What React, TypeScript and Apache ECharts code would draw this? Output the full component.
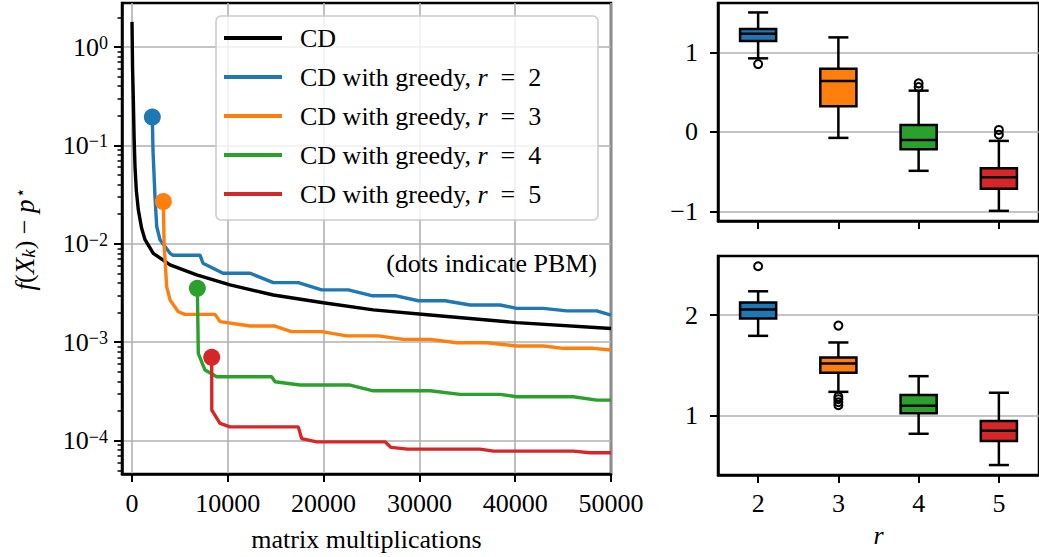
import React, { useEffect, useRef } from 'react';
import * as echarts from 'echarts';

const FONT = "'Liberation Serif', 'DejaVu Serif', serif";
const LINE_COLORS = ['#000000', '#1f77b4', '#ff7f0e', '#2ca02c', '#d62728'];
const BOX_COLORS = ['#1f77b4', '#ff7f0e', '#2ca02c', '#d62728'];

const seriesNames = [
  'CD',
  'CD with greedy, r = 2',
  'CD with greedy, r = 3',
  'CD with greedy, r = 4',
  'CD with greedy, r = 5',
];

// [matrix multiplications, f(X_k) - p*]
const cdData = [
  [0, 1.8], [60, 0.6], [140, 0.29], [220, 0.12], [313, 0.061], [450, 0.035], [660, 0.0221],
  [1000, 0.0145], [1360, 0.011], [2220, 0.008], [3970, 0.0061], [6750, 0.00483],
  [10230, 0.00382], [14750, 0.00302], [19970, 0.00252], [25190, 0.00213], [31110, 0.00189],
  [40160, 0.00158], [50000, 0.00138],
];
const greedyR2 = [
  [2120, 0.194], [2190, 0.09], [2400, 0.03], [2580, 0.015], [2920, 0.011], [3970, 0.008],
  [4280, 0.00766], [7100, 0.00766], [7410, 0.00635], [9500, 0.00502], [12320, 0.00502],
  [14750, 0.00403], [17360, 0.00403], [19800, 0.0034], [22580, 0.0034], [25020, 0.00297],
  [27460, 0.00297], [29890, 0.00264], [32680, 0.00264], [35290, 0.00239], [38420, 0.00239],
  [40160, 0.00221], [42940, 0.00221], [45380, 0.00208], [48510, 0.00208], [50000, 0.00189],
];
const greedyR3 = [
  [3270, 0.0269], [3350, 0.01], [3620, 0.00367], [3970, 0.00269], [4830, 0.00204],
  [5530, 0.00192], [8670, 0.00192], [9190, 0.00162], [12320, 0.00146], [14930, 0.00146],
  [16630, 0.00128], [19800, 0.00128], [22420, 0.00116], [25710, 0.00116], [28320, 0.00107],
  [31110, 0.00107], [33900, 0.000989], [37030, 0.000989], [40160, 0.000915], [42940, 0.000915],
  [45010, 0.000867], [48150, 0.000867], [50000, 0.000833],
];
const greedyR4 = [
  [6820, 0.00353], [6880, 0.0015], [6920, 0.000771], [7620, 0.000521], [8840, 0.000446],
  [14580, 0.000446], [14930, 0.000396], [17540, 0.000367], [22760, 0.000367], [25190, 0.000321],
  [31110, 0.000321], [34240, 0.000295], [38420, 0.000295], [40160, 0.000279], [46070, 0.000279],
  [48510, 0.000258], [50000, 0.000258],
];
const greedyR5 = [
  [8320, 0.000702], [8330, 0.000204], [9190, 0.00015], [10230, 0.000138], [17360, 0.000138],
  [17710, 0.000105], [19280, 0.0000972], [26410, 0.0000972], [27040, 0.0000853],
  [28780, 0.000082], [36330, 0.000082], [37720, 0.0000782], [46070, 0.0000782],
  [47810, 0.0000752], [50000, 0.0000752],
];
const lineSeriesData = [cdData, greedyR2, greedyR3, greedyR4, greedyR5];

const xTicks = [0, 10000, 20000, 30000, 40000, 50000];
const yMajorTicks = [1e-4, 1e-3, 1e-2, 1e-1, 1];
const yMinorTicks: number[] = [];
for (let e = -5; e <= 0; e++) {
  for (let m = 2; m <= 9; m++) yMinorTicks.push(m * Math.pow(10, e));
}

const rCategories = ['2', '3', '4', '5'];
// [whisker low, Q1, median, Q3, whisker high]
const topBoxStats = [
  [0.927, 1.145, 1.237, 1.296, 1.505],
  [-0.075, 0.323, 0.642, 0.797, 1.191],
  [-0.49, -0.218, -0.101, 0.088, 0.52],
  [-0.994, -0.717, -0.57, -0.457, -0.113],
];
const topOutliers = [[0, 0.855], [2, 0.612], [2, 0.565], [3, 0.025], [3, -0.035]];
const bottomBoxStats = [
  [1.795, 1.967, 2.057, 2.126, 2.238],
  [1.238, 1.427, 1.52, 1.58, 1.729],
  [0.821, 1.024, 1.1, 1.206, 1.394],
  [0.51, 0.749, 0.851, 0.947, 1.229],
];
const bottomOutliers = [[0, 2.487], [1, 1.897], [1, 1.19], [1, 1.165], [1, 1.135], [1, 1.105]];
const topYTicks = [-1, 0, 1];
const bottomYTicks = [1, 2];

const txt = { fontFamily: FONT, color: '#000', fontSize: 26 };
const gridLine = { show: true, lineStyle: { color: '#b0b0b0', width: 1.6 } };
const tickStyle = { lineStyle: { color: '#000', width: 2 } };
const axisLineStyle = { show: true, onZero: false, lineStyle: { color: '#000', width: 2.5 } };
const fmtNum = (v: number) => (v < 0 ? '\u2212' + Math.abs(v) : String(v));

function boxRender(params: any, api: any) {
  const idx = api.value(0);
  const x = api.coord([idx, 0])[0];
  const yMin = api.coord([idx, api.value(1)])[1];
  const yQ1 = api.coord([idx, api.value(2)])[1];
  const yMed = api.coord([idx, api.value(3)])[1];
  const yQ3 = api.coord([idx, api.value(4)])[1];
  const yMax = api.coord([idx, api.value(5)])[1];
  const band = api.size([1, 0])[0];
  const half = band * 0.225;
  const cap = band * 0.125;
  const ls = { stroke: '#000', lineWidth: 2.5 };
  return {
    type: 'group',
    children: [
      { type: 'line', shape: { x1: x, y1: yQ1, x2: x, y2: yMin }, style: ls },
      { type: 'line', shape: { x1: x, y1: yQ3, x2: x, y2: yMax }, style: ls },
      { type: 'line', shape: { x1: x - cap, y1: yMin, x2: x + cap, y2: yMin }, style: ls },
      { type: 'line', shape: { x1: x - cap, y1: yMax, x2: x + cap, y2: yMax }, style: ls },
      {
        type: 'rect',
        shape: { x: x - half, y: yQ3, width: 2 * half, height: yQ1 - yQ3 },
        style: { fill: BOX_COLORS[params.dataIndex], stroke: '#000', lineWidth: 2.5 },
      },
      { type: 'line', shape: { x1: x - half, y1: yMed, x2: x + half, y2: yMed }, style: ls },
    ],
  };
}

export default function App() {
  const ref = useRef<HTMLDivElement>(null);
  useEffect(() => {
    if (!ref.current) return;
    const chart = echarts.init(ref.current, null, { renderer: 'svg' });

    const lineSeries = lineSeriesData.map((d, i) => ({
      type: 'line',
      name: seriesNames[i],
      xAxisIndex: 0,
      yAxisIndex: 0,
      data: d,
      symbol: 'none',
      lineStyle: { width: 3.4, color: LINE_COLORS[i] },
      itemStyle: { color: LINE_COLORS[i] },
      z: 2,
    }));

    const dotSeries = {
      type: 'scatter',
      name: 'PBM',
      xAxisIndex: 0,
      yAxisIndex: 0,
      symbol: 'circle',
      symbolSize: 17,
      z: 3,
      data: lineSeriesData.slice(1).map((d, i) => ({
        value: d[0],
        itemStyle: { color: LINE_COLORS[i + 1], opacity: 1 },
      })),
    };

    const boxSeries = (stats: number[][], xi: number, yi: number) => ({
      type: 'custom',
      xAxisIndex: xi,
      yAxisIndex: yi,
      renderItem: boxRender,
      encode: { x: 0, y: [1, 2, 3, 4, 5] },
      data: stats.map((s, i) => [i, ...s]),
      z: 3,
    });
    const outlierSeries = (pts: number[][], xi: number, yi: number) => ({
      type: 'scatter',
      xAxisIndex: xi,
      yAxisIndex: yi,
      symbol: 'circle',
      symbolSize: 8,
      itemStyle: { color: 'rgba(0,0,0,0)', borderColor: '#000', borderWidth: 2, opacity: 1 },
      data: pts,
      z: 4,
    });

    const catAxis = (gi: number, showLabel: boolean) => ({
      type: 'category',
      gridIndex: gi,
      data: rCategories,
      boundaryGap: true,
      axisLine: axisLineStyle,
      axisTick: { show: true, alignWithLabel: true, length: 8, ...tickStyle },
      axisLabel: { show: showLabel, margin: 15, ...txt },
      splitLine: { show: false },
      ...(showLabel
        ? {
            name: 'r',
            nameLocation: 'middle',
            nameGap: 47,
            nameTextStyle: { ...txt, fontStyle: 'italic' },
          }
        : {}),
    });

    const boxYAxis = (gi: number, min: number, max: number, ticks: number[]) => ({
      type: 'value',
      gridIndex: gi,
      min,
      max,
      splitNumber: 2,
      axisLine: axisLineStyle,
      axisTick: { show: true, length: 8, customValues: ticks, ...tickStyle },
      axisLabel: { margin: 20, customValues: ticks, formatter: fmtNum, ...txt },
      splitLine: gridLine,
    });

    const option: any = {
      animation: false,
      backgroundColor: '#ffffff',
      textStyle: { fontFamily: FONT, color: '#000' },
      grid: [
        { left: 122, top: 3, width: 489, height: 471, show: true, borderColor: '#000', borderWidth: 2.5, backgroundColor: 'transparent' },
        { left: 718, top: 3, width: 326.4, height: 218, show: true, borderColor: '#000', borderWidth: 2.5, backgroundColor: 'transparent' },
        { left: 718, top: 256, width: 326.4, height: 219, show: true, borderColor: '#000', borderWidth: 2.5, backgroundColor: 'transparent' },
      ],
      xAxis: [
        {
          type: 'value',
          gridIndex: 0,
          min: -1044,
          max: 50000,
          splitNumber: 5,
          axisLine: axisLineStyle,
          axisTick: { show: true, length: 8, customValues: xTicks, ...tickStyle },
          axisLabel: { margin: 16, customValues: xTicks, formatter: (v: number) => String(v), ...txt },
          splitLine: gridLine,
          name: 'matrix multiplications',
          nameLocation: 'middle',
          nameGap: 52,
          nameTextStyle: txt,
        },
        catAxis(1, false),
        catAxis(2, true),
      ],
      yAxis: [
        {
          type: 'log',
          logBase: 10,
          gridIndex: 0,
          min: 4.58e-5,
          max: 2.8,
          splitNumber: 5,
          axisLine: axisLineStyle,
          axisTick: { show: true, length: 8, customValues: yMajorTicks, ...tickStyle },
          axisLabel: {
            margin: 14,
            customValues: yMajorTicks,
            fontFamily: FONT,
            formatter: (v: number) => {
              const e = Math.round(Math.log10(v));
              return `{b|10}{s|${e < 0 ? '\u2212' : ''}${Math.abs(e)}}`;
            },
            rich: {
              b: { fontFamily: FONT, fontSize: 26, color: '#000', lineHeight: 26, padding: [6, 0, 0, 0], verticalAlign: 'bottom' },
              s: { fontFamily: FONT, fontSize: 18, color: '#000', lineHeight: 18, verticalAlign: 'top' },
            },
          },
          splitLine: gridLine,
          name: '{i|f}({i|X}{sub|k}) \u2212 {i|p}{sup|\u22C6}',
          nameLocation: 'middle',
          nameRotate: 90,
          nameGap: 84,
          nameTextStyle: {
            ...txt,
            rich: {
              i: { fontFamily: FONT, fontSize: 27, color: '#000', fontStyle: 'italic' },
              sub: { fontFamily: FONT, fontSize: 19, color: '#000', fontStyle: 'italic', verticalAlign: 'bottom', padding: [8, 0, 0, 0] },
              sup: { fontFamily: "'DejaVu Serif', serif", fontSize: 17, color: '#000', verticalAlign: 'top', padding: [0, 0, 10, 2] },
            },
          },
        },
        {
          type: 'log',
          logBase: 10,
          gridIndex: 0,
          position: 'left',
          min: 4.58e-5,
          max: 2.8,
          axisLine: { show: false, onZero: false },
          axisLabel: { show: false },
          splitLine: { show: false },
          axisTick: { show: true, length: 4.5, customValues: yMinorTicks, lineStyle: { color: '#000', width: 1.5 } },
        },
        boxYAxis(1, -1.122, 1.624, topYTicks),
        boxYAxis(2, 0.411, 2.589, bottomYTicks),
      ],
      legend: {
        show: true,
        data: seriesNames,
        orient: 'vertical',
        left: 224,
        top: 23,
        icon: 'rect',
        itemWidth: 58,
        itemHeight: 4,
        itemGap: 9,
        padding: 0,
        selectedMode: false,
        z: 6,
        formatter: (name: string) =>
          '{gap| }' + name.replace('r = ', '{it|r}\u2002=\u2002'),
        textStyle: {
          ...txt,
          lineHeight: 30,
          rich: {
            gap: { width: 13, fontSize: 26, fontFamily: FONT, lineHeight: 30 },
            it: { fontStyle: 'italic', fontSize: 26, fontFamily: FONT, color: '#000', lineHeight: 30 },
          },
        },
      },
      graphic: [
        {
          type: 'rect',
          z: 5,
          shape: { x: 216, y: 16, width: 382, height: 204, r: 5 },
          style: { fill: 'rgba(255,255,255,0.8)', stroke: '#cccccc', lineWidth: 1.6 },
        },
        {
          type: 'text',
          z: 6,
          x: 597,
          y: 263,
          style: { text: '(dots indicate PBM)', fontFamily: FONT, fontSize: 26, fill: '#000', align: 'right', verticalAlign: 'middle' },
        },
      ],
      series: [
        ...lineSeries,
        dotSeries,
        boxSeries(topBoxStats, 1, 2),
        outlierSeries(topOutliers, 1, 2),
        boxSeries(bottomBoxStats, 2, 3),
        outlierSeries(bottomOutliers, 2, 3),
      ],
    };
    chart.setOption(option);
    return () => chart.dispose();
  }, []);

  return (
    <div
      ref={ref}
      style={{ position: 'fixed', left: 0, top: 0, width: 1039, height: 557, background: '#fff' }}
    />
  );
}
